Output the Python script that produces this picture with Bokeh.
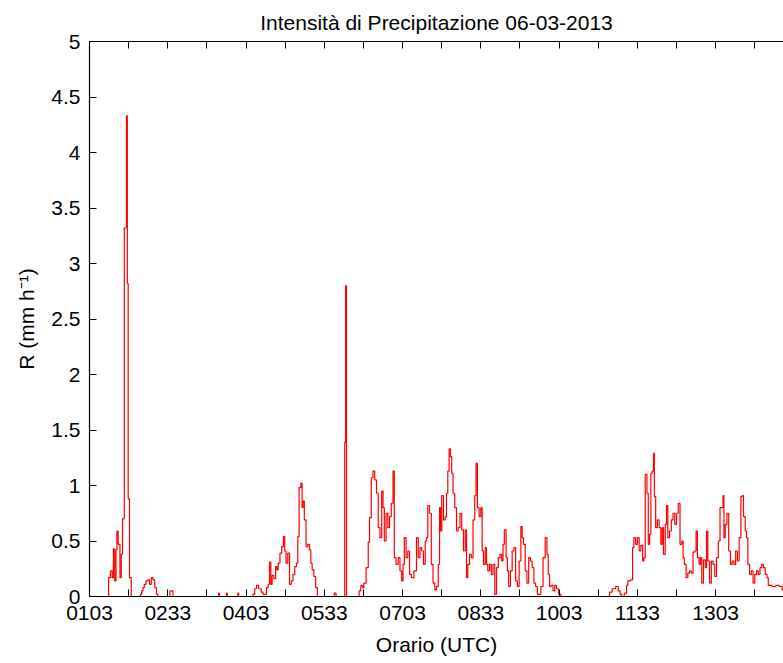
from bokeh.plotting import figure
from bokeh.models import FixedTicker, LinearAxis, NumeralTickFormatter, ColumnDataSource
from bokeh.embed import file_html
from bokeh.resources import INLINE

# Rain-rate episodes, 6 March 2013: time in minutes after 00:00 UTC, rate in mm/h
t_ep1 = [84, 86, 88, 90, 91, 93, 94, 95, 97, 99, 100, 102, 104, 105, 106, 107, 108, 110, 112]
r_ep1 = [0, 0.17, 0.23, 0.17, 0.43, 0.14, 0.42, 0.59, 0.47, 0.17, 0.38, 0.70, 3.32, 3.32, 4.33, 2.82, 0.88, 0.17, 0]

t_ep1b = [121, 122, 124, 125, 127, 129, 131, 133, 135, 137, 139, 141, 142]
r_ep1b = [0, 0.02, 0.05, 0.08, 0.11, 0.14, 0.15, 0.11, 0.17, 0.15, 0.08, 0.02, 0]

t_traces = [155, 156, 158, 160, 211, 212, 213, 220, 221, 222, 233, 234, 235]
r_traces = [0, 0.05, 0.05, 0, 0, 0.03, 0, 0, 0.03, 0, 0, 0.03, 0]

t_ep2 = [250, 252, 254, 256, 259, 262, 263, 265, 268, 269,
         271, 272, 274, 276, 278, 279, 281, 283, 285, 287,
         288, 290, 292, 294, 296, 298, 300, 302, 303, 305,
         307, 308, 309, 311, 313, 315, 317, 318, 320, 322,
         324, 326]
r_ep2 = [0, 0.02, 0.07, 0.10, 0.07, 0.04, 0.02, 0.02, 0.08, 0.11,
         0.31, 0.11, 0.19, 0.16, 0.27, 0.24, 0.30, 0.39, 0.45, 0.54,
         0.41, 0.30, 0.39, 0.11, 0.14, 0.20, 0.27, 0.30, 0.54, 0.98,
         1.02, 0.80, 0.86, 0.69, 0.45, 0.47, 0.42, 0.30, 0.24, 0.18,
         0.08, 0]

t_spike = [344, 345, 346, 347, 356, 357, 358, 359]
r_spike = [0, 0.03, 0.03, 0, 0, 1.39, 2.80, 0]

t_ep3 = [372, 374, 376, 378, 379, 383, 384, 386, 388, 390,
         392, 394, 396, 398, 400, 401, 403, 405, 407, 409,
         411, 413, 414, 417, 419, 421, 423, 424, 426, 428,
         430, 432, 434, 438, 440, 442, 444, 446, 448, 450,
         451, 453, 455, 457, 459, 461, 463, 465, 466, 467,
         469, 471, 473, 474, 476, 477, 479, 480, 482, 484,
         486, 488, 490, 492, 494, 496, 497, 499, 501, 503,
         505, 507, 508, 510, 512, 514, 515, 517, 519, 520,
         522, 524, 526, 528, 530, 532, 534, 536, 538, 539,
         541, 543, 544, 546, 548, 550, 552, 554, 556, 558,
         560, 561, 563, 565, 567, 569, 571, 573, 575, 577,
         579, 581, 583, 586, 588, 590, 591, 593, 595, 597,
         599, 601, 604, 606]
r_ep3 = [0, 0.05, 0.10, 0.08, 0.12, 0.26, 0.49, 0.71, 1.07, 1.13,
         1.05, 0.93, 0.62, 0.53, 0.95, 0.80, 0.50, 0.75, 0.62, 0.72,
         0.84, 1.13, 0.35, 0.29, 0.35, 0.23, 0.14, 0.29, 0.53, 0.35,
         0.41, 0.20, 0.17, 0.23, 0.53, 0.35, 0.44, 0.41, 0.29, 0.50,
         0.53, 0.82, 0.75, 0.29, 0.12, 0.06, 0.09, 0.29, 0.80, 0.59,
         0.91, 0.69, 0.72, 0.93, 1.13, 1.33, 1.26, 1.11, 0.93, 0.80,
         0.59, 0.62, 0.75, 0.60, 0.41, 0.60, 0.17, 0.29, 0.38, 0.35,
         0.69, 0.91, 1.20, 0.80, 0.72, 0.80, 0.41, 0.29, 0.44, 0.29,
         0.23, 0.29, 0.20, 0.29, 0.02, 0.26, 0.35, 0.38, 0.32, 0.47,
         0.60, 0.35, 0.23, 0.09, 0.23, 0.41, 0.44, 0.14, 0.09, 0.32,
         0.63, 0.53, 0.47, 0.23, 0.12, 0.35, 0.32, 0.26, 0.12, 0.09,
         0.02, 0.02, 0.09, 0.35, 0.53, 0.38, 0.20, 0.09, 0.10, 0.05,
         0.10, 0.07, 0.02, 0]

t_ep4 = [660, 662, 666, 670, 672, 674, 676, 680, 681, 683,
         687, 688, 690, 692, 694, 696, 698, 700, 701, 703,
         705, 706, 708, 709, 711, 712, 713, 715, 717, 719,
         721, 722, 724, 726, 727, 729, 731, 733, 735, 737,
         739, 741, 743, 745, 746, 748, 750, 752, 754, 756,
         758, 760, 761, 763, 765, 766, 768, 770, 772, 773,
         775, 777, 779, 781, 783, 785, 787, 789, 791, 792,
         793, 795, 797, 799, 801, 803, 805, 807, 809, 811,
         813, 814, 816, 818, 819, 821, 823, 825, 827, 829,
         831, 833, 835, 837, 839, 841, 843, 844, 846, 850,
         854, 858, 861, 864, 866]
r_ep4 = [0, 0.04, 0.07, 0.09, 0.05, 0.02, 0, 0.03, 0.10, 0.14,
         0.15, 0.44, 0.53, 0.47, 0.53, 0.41, 0.46, 0.32, 0.35, 1.10,
         0.93, 0.47, 0.56, 1.11, 1.13, 1.29, 0.90, 0.62, 0.69, 0.62,
         0.47, 0.62, 0.38, 0.65, 0.82, 0.53, 0.59, 0.69, 0.75, 0.65,
         0.75, 0.84, 0.47, 0.50, 0.35, 0.29, 0.17, 0.21, 0.23, 0.21,
         0.40, 0.41, 0.59, 0.35, 0.29, 0.35, 0.12, 0.33, 0.26, 0.59,
         0.32, 0.12, 0.32, 0.29, 0.18, 0.35, 0.50, 0.80, 0.80, 0.91,
         0.53, 0.65, 0.75, 0.41, 0.29, 0.32, 0.29, 0.41, 0.32, 0.53,
         0.90, 0.91, 0.72, 0.59, 0.53, 0.29, 0.20, 0.23, 0.12, 0.20,
         0.23, 0.20, 0.26, 0.29, 0.26, 0.20, 0.17, 0.10, 0.10, 0.09,
         0.10, 0.09, 0.06, 0.07, 0.05]

x_tick_labels = ["0103", "0233", "0403", "0533", "0703", "0833", "1003", "1133", "1303"]
y_ticks = [0, 0.5, 1, 1.5, 2, 2.5, 3, 3.5, 4, 4.5, 5]

t_start, t_end = 63, 861

FONT = "Liberation Sans"
FS = "21px"

times = t_ep1 + t_ep1b + t_traces + t_ep2 + t_spike + t_ep3 + t_ep4
rates = r_ep1 + r_ep1b + r_traces + r_ep2 + r_spike + r_ep3 + r_ep4
src = ColumnDataSource(data=dict(t=times, r=rates))

p = figure(width=783, height=663, x_range=(t_start, t_end), y_range=(0, 5),
           output_backend="svg", toolbar_location=None,
           min_border_left=89, min_border_right=0, min_border_top=41, min_border_bottom=67,
           title="Intensità di Precipitazione 06-03-2013")
p.outline_line_color = None
p.grid.visible = False
p.background_fill_color = "white"
p.border_fill_color = "white"

p.title.align = "center"
p.title.text_font = FONT
p.title.text_font_size = FS
p.title.text_font_style = "normal"
p.title.text_color = "#000000"
p.title.standoff = 15

p.step("t", "r", source=src, mode="center", line_color="#ff0000", line_width=1.2)

# time ticks every 90 min, with a minor tick half way
major = [int(s[:2]) * 60 + int(s[2:]) for s in x_tick_labels]
minor = [m + 45 for m in major]
ticker = FixedTicker(ticks=major, minor_ticks=minor)

xa = p.xaxis[0]
xa.ticker = ticker
xa.major_label_overrides = {m: s for m, s in zip(major, x_tick_labels)}
xa.axis_label = "Orario (UTC)"

ya = p.yaxis[0]
ya.ticker = FixedTicker(ticks=y_ticks)
ya.formatter = NumeralTickFormatter(format="0.[0]")
ya.axis_label = "R (mm h⁻¹)"

# top frame edge: unlabeled, every tick drawn as a minor tick
top = LinearAxis(ticker=FixedTicker(ticks=[], minor_ticks=sorted(major + minor)))
p.add_layout(top, "above")

for ax in (xa, ya, top):
    ax.axis_line_color = "#000000"
    ax.axis_line_width = 1.2
    ax.major_tick_line_color = "#000000"
    ax.minor_tick_line_color = "#000000"
    ax.major_tick_in = 7
    ax.major_tick_out = 0
    ax.minor_tick_in = 7
    ax.minor_tick_out = 0
for ax in (xa, ya):
    ax.major_label_text_font = FONT
    ax.major_label_text_font_size = FS
    ax.major_label_text_color = "#000000"
    ax.axis_label_text_font = FONT
    ax.axis_label_text_font_size = FS
    ax.axis_label_text_font_style = "normal"
    ax.axis_label_text_color = "#000000"
ya.minor_tick_in = 0
xa.major_label_standoff = 9
xa.axis_label_standoff = 10
ya.major_label_standoff = 9
ya.axis_label_standoff = 10

open("out.html", "w").write(file_html(p, INLINE))
